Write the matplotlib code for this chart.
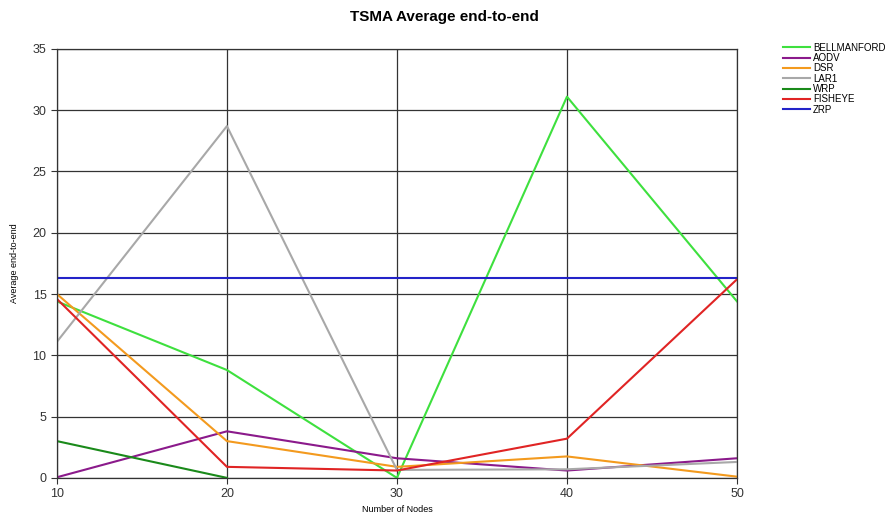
import numpy as np
import matplotlib.pyplot as plt

plt.rcParams['font.family'] = ['Liberation Sans', 'DejaVu Sans']

nodes = [10, 20, 30, 40, 50]

bellmanford = [14.4, 8.8, 0.0, 31.1, 14.4]
aodv = [0.05, 3.8, 1.6, 0.6, 1.6]
dsr = [15.0, 3.0, 0.9, 1.75, 0.1]
lar1 = [11.1, 28.7, 0.65, 0.7, 1.3]
wrp = [3.0, 0.0, np.nan, np.nan, np.nan]
fisheye = [14.6, 0.9, 0.6, 3.2, 16.2]
zrp = [16.3, 16.3, 16.3, 16.3, 16.3]

series = [
    ('BELLMANFORD', bellmanford, '#3ee03e'),
    ('AODV', aodv, '#8b1a8b'),
    ('DSR', dsr, '#f39a1e'),
    ('LAR1', lar1, '#a8a8a8'),
    ('WRP', wrp, '#1a8a1a'),
    ('FISHEYE', fisheye, '#e02424'),
    ('ZRP', zrp, '#2323c8'),
]

fig = plt.figure(figsize=(8.89, 5.2), dpi=100)
ax = fig.add_axes([0.064, 0.081, 0.765, 0.825])

for name, vals, col in series:
    ax.plot(nodes, vals, color=col, lw=1.5, label=name)

ax.set_xlim(10, 50)
ax.set_ylim(0, 35)
ax.set_xticks(nodes)
ax.set_yticks(range(0, 36, 5))
ax.grid(True, color='#333333', lw=0.9)
ax.set_axisbelow(True)
for s in ax.spines.values():
    s.set_color('#333333')
    s.set_linewidth(0.9)
ax.tick_params(labelsize=9, colors='#333333', length=4, width=0.8)

ax.set_xlabel('Number of Nodes', fontsize=6.5)
ax.xaxis.set_label_coords(0.5, -0.063)
ax.set_ylabel('Average end-to-end', fontsize=6.5)
ax.yaxis.set_label_coords(-0.055, 0.5)
fig.suptitle('TSMA Average end-to-end', fontsize=11, fontweight='bold', y=0.98)

fig.legend(loc='upper left', bbox_to_anchor=(0.876, 0.925), frameon=False,
           fontsize=7, handlelength=2.8, labelspacing=0.03, handletextpad=0.3,
           borderaxespad=0)

fig.savefig('out.png', dpi=100)
